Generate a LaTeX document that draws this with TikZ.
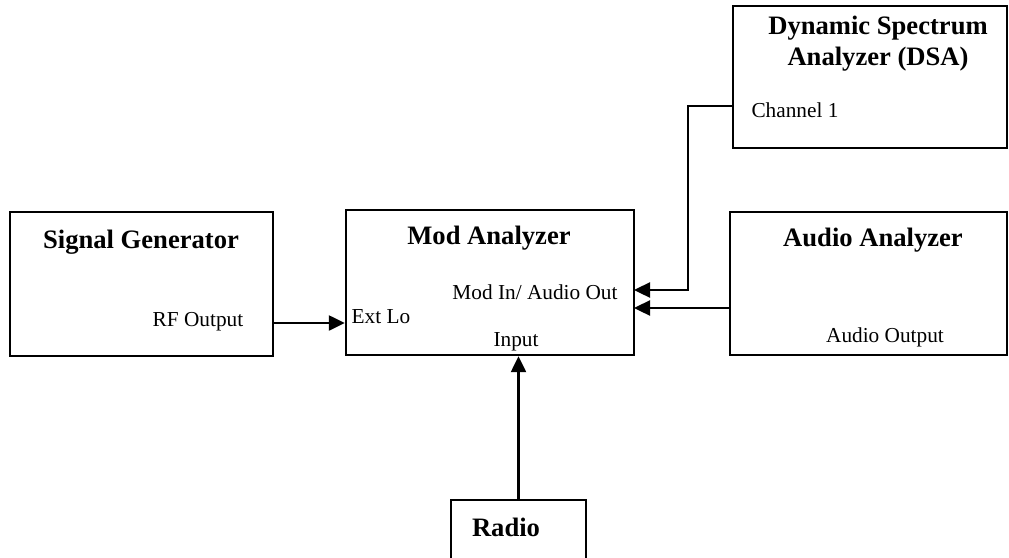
\documentclass[tikz,border=0pt]{standalone}
\usepackage{tikz, xcolor}
\usepackage{fontspec}
\setmainfont{Liberation Serif}
\usetikzlibrary{shapes,arrows.meta}

\begin{document}
\begin{tikzpicture}[x=1pt, y=-1pt, line width=2.4pt]
\tikzstyle{block}=[rectangle, draw=black, line width=2.4pt, inner sep=0pt]
\tikzstyle{titletext}=[font=\fontsize{26.6}{31}\selectfont\bfseries, inner sep=0pt]
\tikzstyle{porttext}=[font=\fontsize{21.3}{25}\selectfont, inner sep=0pt]
\tikzstyle{drawstyle}=[line width=2.4pt, -{Triangle[length=16pt, width=15pt]}]

\useasboundingbox (0,0) rectangle (1009,557);

\node[block, minimum width=263pt, minimum height=144pt] (SigGen) at (141.5,284) {};
\node[titletext] (SigGenT) at (141,242) {Signal Generator};
\node[porttext] (RFout) at (198,322) {RF Output};

\node[block, minimum width=288pt, minimum height=145pt] (ModAn) at (490,282.5) {};
\node[titletext] (ModAnT) at (489,238) {Mod Analyzer};
\node[porttext] (ModIn) at (535,292) {Mod In/ Audio Out};
\node[porttext] (ExtLo) at (381,317) {Ext Lo};
\node[porttext] (Input) at (516,342) {Input};

\node[block, minimum width=277pt, minimum height=143pt] (AudAn) at (868.5,283.5) {};
\node[titletext] (AudAnT) at (873,240) {Audio Analyzer};
\node[porttext] (AudOut) at (885,337) {Audio Output};

\node[block, minimum width=274pt, minimum height=142pt] (DSA) at (870,77) {};
\node[titletext, align=center] (DSAT) at (878,44) {Dynamic Spectrum\\Analyzer (DSA)};
\node[porttext] (Ch1) at (795,110) {Channel 1};

\node[block, minimum width=135pt, minimum height=62pt] (Radio) at (518.5,531) {};
\node[titletext] (RadioT) at (506,527) {Radio};

\coordinate (ModInA) at (634,290);
\coordinate (ModInB) at (634,308);
\coordinate (DSAin) at (733,106);

\draw[drawstyle] (SigGen.east |- 0,323) -- (ModAn.west |- 0,323);
\draw[drawstyle] (Radio.north) -- (Radio.north |- ModAn.south);
\draw[drawstyle] (DSAin) -- (688,106) |- (ModInA);
\draw[drawstyle] (AudAn.west |- ModInB) -- (ModInB);
\end{tikzpicture}
\end{document}
